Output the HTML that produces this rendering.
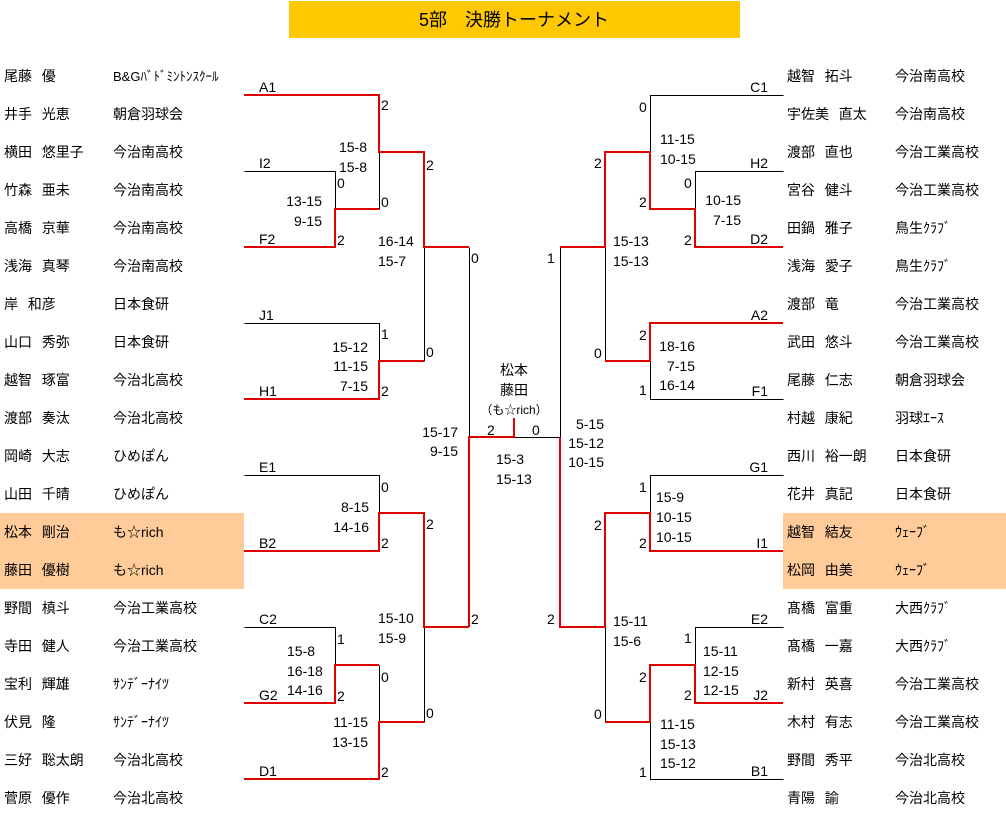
<!DOCTYPE html>
<html><head><meta charset="utf-8"><style>
html,body{margin:0;padding:0;background:#fff;}
svg{display:block;}
text{font-family:"Liberation Sans","Noto Sans CJK JP",sans-serif;font-size:14px;fill:#000;}
.n{font-size:15px;}
.s{font-size:13.5px;}
</style></head><body>
<svg width="1006" height="818" viewBox="0 0 1006 818" xmlns="http://www.w3.org/2000/svg">
<rect x="289" y="1" width="451" height="37" fill="#FFC800"/>
<text x="514" y="26" text-anchor="middle" style="font-size:18px">5部　決勝トーナメント</text>
<rect x="0" y="513" width="244" height="76" fill="#FFCC99"/>
<rect x="783" y="513" width="223" height="76" fill="#FFCC99"/>

<g fill="none" stroke="#000" stroke-width="1" transform="translate(0.5,0.5)">
<path d="M244 171H335V209M379 152V209M244 323H379V361M424 247V361M244 475H379V513M244 627H335V665M379 665V722M424 627V722M469 247V437M514 437H560M560 247V437"/>
<path d="M783 95H650V152M783 171H695V209M605 247V361M783 399H650V361M783 475H650V513M783 627H695V665M783 779H650V722M605 627V722"/>
</g>
<g fill="none" stroke="#E00000" stroke-width="2" shape-rendering="crispEdges">
<path d="M244 95H379V152H424V247H469"/>
<path d="M244 247H335V209H379"/>
<path d="M244 399H379V361H424"/>
<path d="M244 551H379V513H424V627H469"/>
<path d="M244 703H335V665H379"/>
<path d="M244 779H379V722H424"/>
<path d="M469 627V437H514V418"/>
<path d="M783 247H695V209H650V152H605V247H560"/>
<path d="M783 323H650V361H605"/>
<path d="M783 551H650V513H605V627H560V437"/>
<path d="M783 703H695V665H650V722H605"/>
</g>

<g class="s">
<text x="259" y="92">A1</text><text x="259" y="168">I2</text><text x="259" y="244">F2</text>
<text x="259" y="320">J1</text><text x="259" y="396">H1</text><text x="259" y="472">E1</text>
<text x="259" y="548">B2</text><text x="259" y="624">C2</text><text x="259" y="700">G2</text><text x="259" y="776">D1</text>
<g text-anchor="end">
<text x="768" y="92">C1</text><text x="768" y="168">H2</text><text x="768" y="244">D2</text>
<text x="768" y="320">A2</text><text x="768" y="396">F1</text><text x="768" y="472">G1</text>
<text x="768" y="548">I1</text><text x="768" y="624">E2</text><text x="768" y="700">J2</text><text x="768" y="776">B1</text>
</g>

<text x="381" y="110">2</text><text x="381" y="207">0</text>
<text x="337" y="188">0</text><text x="337" y="245">2</text>
<text x="426" y="170">2</text><text x="426" y="357">0</text>
<text x="381" y="339">1</text><text x="381" y="396">2</text>
<text x="471" y="263">0</text><text x="471" y="624">2</text>
<text x="381" y="492">0</text><text x="381" y="548">2</text>
<text x="426" y="529">2</text><text x="426" y="718">0</text>
<text x="337" y="644">1</text><text x="337" y="701">2</text>
<text x="381" y="682">0</text><text x="381" y="777">2</text>
<text x="487" y="435">2</text><text x="532" y="435">0</text>
<text x="547" y="263">1</text><text x="547" y="624">2</text>
<text x="594" y="168">2</text><text x="594" y="358">0</text>
<text x="639" y="112">0</text><text x="639" y="207">2</text>
<text x="684" y="188">0</text><text x="684" y="245">2</text>
<text x="639" y="340">2</text><text x="639" y="395">1</text>
<text x="639" y="492">1</text><text x="639" y="548">2</text>
<text x="594" y="530">2</text><text x="594" y="719">0</text>
<text x="684" y="643">1</text><text x="684" y="700">2</text>
<text x="639" y="682">2</text><text x="639" y="777">1</text>

<g text-anchor="end">
<text x="367" y="152">15-8</text><text x="367" y="172">15-8</text>
<text x="322" y="206">13-15</text><text x="322" y="226">9-15</text>
<text x="368" y="352">15-12</text><text x="368" y="371">11-15</text><text x="368" y="391">7-15</text>
<text x="458" y="437">15-17</text><text x="458" y="456">9-15</text>
<text x="369" y="512">8-15</text><text x="369" y="532">14-16</text>
<text x="368" y="727">11-15</text><text x="368" y="747">13-15</text>
<text x="604" y="429">5-15</text><text x="604" y="448">15-12</text><text x="604" y="467">10-15</text>
<text x="741" y="205">10-15</text><text x="741" y="225">7-15</text>
<text x="695" y="351">18-16</text><text x="695" y="371">7-15</text><text x="695" y="390">16-14</text>
</g>
<text x="378" y="246">16-14</text><text x="378" y="266">15-7</text>
<text x="378" y="623">15-10</text><text x="378" y="643">15-9</text>
<text x="287" y="656">15-8</text><text x="287" y="676">16-18</text><text x="287" y="695">14-16</text>
<text x="496" y="464">15-3</text><text x="496" y="484">15-13</text>
<text x="613" y="246">15-13</text><text x="613" y="266">15-13</text>
<text x="660" y="144">11-15</text><text x="660" y="164">10-15</text>
<text x="656" y="502">15-9</text><text x="656" y="522">10-15</text><text x="656" y="542">10-15</text>
<text x="613" y="626">15-11</text><text x="613" y="646">15-6</text>
<text x="703" y="656">15-11</text><text x="703" y="676">12-15</text><text x="703" y="695">12-15</text>
<text x="660" y="729">11-15</text><text x="660" y="749">15-13</text><text x="660" y="768">15-12</text>
</g>
<g class="n" text-anchor="middle">
<text x="514" y="375">松本</text><text x="514" y="395">藤田</text>
<text x="514" y="414" style="font-size:12px">（も☆rich）</text>
</g>

<g class="n">
<text x="4" y="81">尾藤&#8194;&#8201;優</text><text x="113" y="81" style="font-size:13px">B&amp;Gﾊﾞﾄﾞﾐﾝﾄﾝｽｸｰﾙ</text>
<text x="4" y="119">井手&#8194;&#8201;光恵</text><text x="113" y="119">朝倉羽球会</text>
<text x="4" y="157">横田&#8194;&#8201;悠里子</text><text x="113" y="157">今治南高校</text>
<text x="4" y="195">竹森&#8194;&#8201;亜未</text><text x="113" y="195">今治南高校</text>
<text x="4" y="233">高橋&#8194;&#8201;京華</text><text x="113" y="233">今治南高校</text>
<text x="4" y="271">浅海&#8194;&#8201;真琴</text><text x="113" y="271">今治南高校</text>
<text x="4" y="309">岸&#8194;&#8201;和彦</text><text x="113" y="309">日本食研</text>
<text x="4" y="347">山口&#8194;&#8201;秀弥</text><text x="113" y="347">日本食研</text>
<text x="4" y="385">越智&#8194;&#8201;琢富</text><text x="113" y="385">今治北高校</text>
<text x="4" y="423">渡部&#8194;&#8201;奏汰</text><text x="113" y="423">今治北高校</text>
<text x="4" y="461">岡崎&#8194;&#8201;大志</text><text x="113" y="461">ひめぽん</text>
<text x="4" y="499">山田&#8194;&#8201;千晴</text><text x="113" y="499">ひめぽん</text>
<text x="4" y="537">松本&#8194;&#8201;剛治</text><text x="113" y="537">も☆rich</text>
<text x="4" y="575">藤田&#8194;&#8201;優樹</text><text x="113" y="575">も☆rich</text>
<text x="4" y="613">野間&#8194;&#8201;槙斗</text><text x="113" y="613">今治工業高校</text>
<text x="4" y="651">寺田&#8194;&#8201;健人</text><text x="113" y="651">今治工業高校</text>
<text x="4" y="689">宝利&#8194;&#8201;輝雄</text><text x="113" y="689">ｻﾝﾃﾞｰﾅｲﾂ</text>
<text x="4" y="727">伏見&#8194;&#8201;隆</text><text x="113" y="727">ｻﾝﾃﾞｰﾅｲﾂ</text>
<text x="4" y="765">三好&#8194;&#8201;聡太朗</text><text x="113" y="765">今治北高校</text>
<text x="4" y="803">菅原&#8194;&#8201;優作</text><text x="113" y="803">今治北高校</text>

<text x="787" y="81">越智&#8194;&#8201;拓斗</text><text x="895" y="81">今治南高校</text>
<text x="787" y="119">宇佐美&#8194;&#8201;直太</text><text x="895" y="119">今治南高校</text>
<text x="787" y="157">渡部&#8194;&#8201;直也</text><text x="895" y="157">今治工業高校</text>
<text x="787" y="195">宮谷&#8194;&#8201;健斗</text><text x="895" y="195">今治工業高校</text>
<text x="787" y="233">田鍋&#8194;&#8201;雅子</text><text x="895" y="233">鳥生ｸﾗﾌﾞ</text>
<text x="787" y="271">浅海&#8194;&#8201;愛子</text><text x="895" y="271">鳥生ｸﾗﾌﾞ</text>
<text x="787" y="309">渡部&#8194;&#8201;竜</text><text x="895" y="309">今治工業高校</text>
<text x="787" y="347">武田&#8194;&#8201;悠斗</text><text x="895" y="347">今治工業高校</text>
<text x="787" y="385">尾藤&#8194;&#8201;仁志</text><text x="895" y="385">朝倉羽球会</text>
<text x="787" y="423">村越&#8194;&#8201;康紀</text><text x="895" y="423">羽球ｴｰｽ</text>
<text x="787" y="461">西川&#8194;&#8201;裕一朗</text><text x="895" y="461">日本食研</text>
<text x="787" y="499">花井&#8194;&#8201;真記</text><text x="895" y="499">日本食研</text>
<text x="787" y="537">越智&#8194;&#8201;結友</text><text x="895" y="537">ｳｪｰﾌﾞ</text>
<text x="787" y="575">松岡&#8194;&#8201;由美</text><text x="895" y="575">ｳｪｰﾌﾞ</text>
<text x="787" y="613">髙橋&#8194;&#8201;富重</text><text x="895" y="613">大西ｸﾗﾌﾞ</text>
<text x="787" y="651">髙橋&#8194;&#8201;一嘉</text><text x="895" y="651">大西ｸﾗﾌﾞ</text>
<text x="787" y="689">新村&#8194;&#8201;英喜</text><text x="895" y="689">今治工業高校</text>
<text x="787" y="727">木村&#8194;&#8201;有志</text><text x="895" y="727">今治工業高校</text>
<text x="787" y="765">野間&#8194;&#8201;秀平</text><text x="895" y="765">今治北高校</text>
<text x="787" y="803">青陽&#8194;&#8201;諭</text><text x="895" y="803">今治北高校</text>
</g>
</svg>
</body></html>
